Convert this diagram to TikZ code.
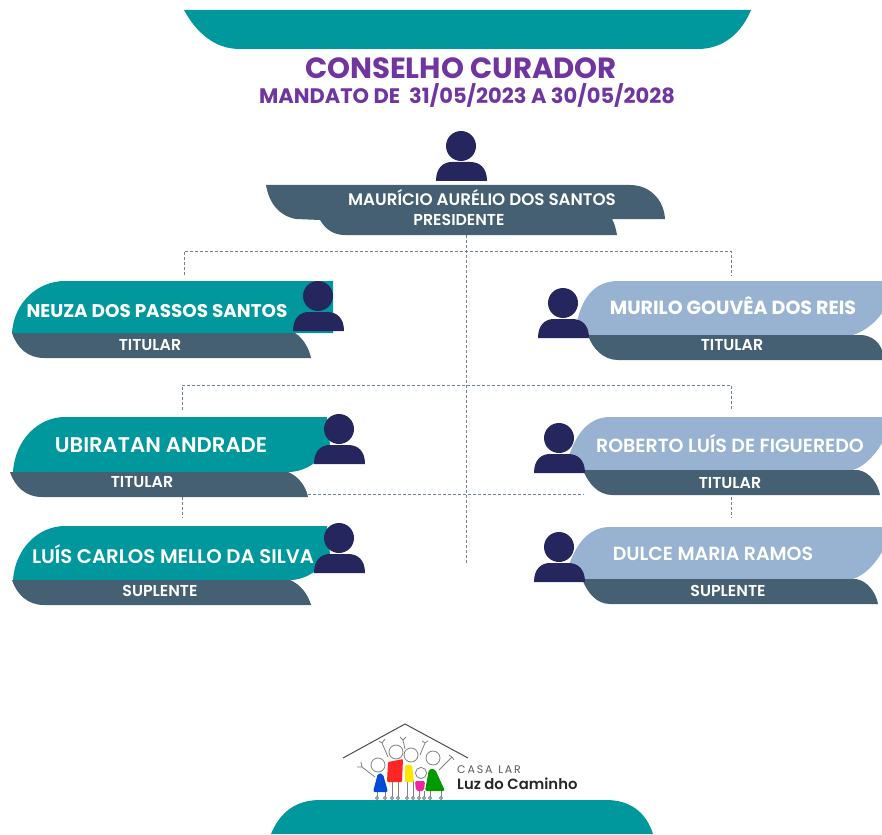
\documentclass[tikz,border=0pt]{standalone}
\usepackage{fontspec}
\setmainfont{Poppins}
\newfontfamily\semifont{Poppins SemiBold}
\definecolor{tealband}{HTML}{00979D}
\definecolor{slateband}{HTML}{456072}
\definecolor{blueband}{HTML}{98B3D1}
\definecolor{navyicon}{HTML}{25265E}
\definecolor{titlepurple}{HTML}{7135A0}
\definecolor{dashgray}{HTML}{6E8294}
\tikzset{
  teal shape/.style={fill=tealband},
  slate shape/.style={fill=slateband},
  blue shape/.style={fill=blueband},
  nameboldtext/.style={text=white,font=\bfseries\fontsize{18.4}{20}\selectfont,inner sep=0pt},
  nametext/.style={text=white,font=\semifont\fontsize{19}{22}\selectfont,inner sep=0pt},
  roletext/.style={text=white,font=\semifont\fontsize{15.8}{18}\selectfont,inner sep=0pt},
  link/.style={draw=dashgray,line width=0.8pt,densely dashed},
  scribble/.style={gray,line width=0.8pt},
  person/.pic={
    \fill[navyicon] (0,0) circle (15);
    \fill[navyicon] (-25,35) .. controls (-25,22) and (-18,16) .. (-9,16) -- (9,16)
      .. controls (19,16) and (26,22) .. (26,35) -- cycle;
  },
  kid/.pic={
    \draw[scribble,fill=white] (0,0) circle (7);
  }
}
\begin{document}
\begin{tikzpicture}[x=1pt,y=-1pt]
  \useasboundingbox (0,0) rectangle (882,834);

  % bands top and bottom
  \fill[teal shape] (184,10) .. controls (196,32) and (214,49) .. (240,49) -- (698,49)
    .. controls (724,49) and (742,32) .. (751,10) -- cycle;
  \fill[teal shape] (271,834) .. controls (280,812) and (296,800) .. (320,800) -- (606,800)
    .. controls (630,800) and (646,812) .. (653,834) -- cycle;

  % title
  \node[text=titlepurple,font=\bfseries\fontsize{29.2}{32}\selectfont,inner sep=0pt] (title) at (461,68) {CONSELHO CURADOR};
  \node[text=titlepurple,font=\bfseries\fontsize{21}{24}\selectfont,inner sep=0pt] (mandate) at (467,95) {MANDATO DE\ \ 31/05/2023 A 30/05/2028};

  % dashed lines
  \coordinate (top left) at (184,251);
  \coordinate (top right) at (731,251);
  \coordinate (top left end) at (184,275);
  \coordinate (top right end) at (731,276);
  \coordinate (centre top) at (466,235);
  \coordinate (centre end) at (466,565);
  \coordinate (mid left) at (182,385);
  \coordinate (mid right) at (731,385);
  \coordinate (mid left end) at (182,410);
  \coordinate (mid right end) at (731,410);
  \coordinate (low left) at (308,494);
  \coordinate (low right) at (584,494);
  \coordinate (sub left) at (182,497);
  \coordinate (sub left end) at (182,518);
  \coordinate (sub right) at (731,497);
  \coordinate (sub right end) at (731,518);
  \draw[link] (top left end) -- (top left) -- (top right) -- (top right end);
  \draw[link] (centre top) -- (centre end);
  \draw[link] (mid left end) -- (mid left) -- (mid right) -- (mid right end);
  \draw[link] (low left) -- (low right);
  \draw[link] (sub left) -- (sub left end);
  \draw[link] (sub right) -- (sub right end);

  % president
  \fill[slate shape] (266,185) -- (630,185) .. controls (650,185) and (664,200) .. (665,219)
    -- (612,219) .. controls (615,224) and (616,230) .. (617,235) -- (345,235)
    .. controls (334,235) and (326,230) .. (320,220) -- (296,219)
    .. controls (279,216) and (269,203) .. (266,185) -- cycle;
  \pic at (461,146) {person};
  \node[roletext,font=\semifont\fontsize{16.7}{18}\selectfont] (president name) at (482,198) {MAURÍCIO AURÉLIO DOS SANTOS};
  \node[roletext] (president role) at (459,219.5) {PRESIDENTE};

  % left column
  \fill[teal shape] (12,333) .. controls (14,302) and (38,281) .. (65,281) -- (333,281) -- (333,333) -- cycle;
  \fill[slate shape] (12,333) -- (295,333) .. controls (303,338) and (309,348) .. (311,358) -- (44,358)
    .. controls (28,358) and (17,348) .. (12,333) -- cycle;
  \pic at (318,296) {person};
  \node[nameboldtext] (neuza name) at (157,311) {NEUZA DOS PASSOS SANTOS};
  \node[roletext] (neuza role) at (150,345) {TITULAR};

  \fill[teal shape] (13,472) .. controls (15,440) and (38,417) .. (65,417) -- (327,417) -- (330,445)
    .. controls (322,460) and (306,472) .. (288,472) -- cycle;
  \fill[slate shape] (10,472) -- (288,472) .. controls (298,476) and (306,486) .. (308,497) -- (42,497)
    .. controls (26,497) and (15,487) .. (10,472) -- cycle;
  \pic at (339,429) {person};
  \node[nametext,font=\semifont\fontsize{21.2}{24}\selectfont] (ubiratan name) at (161,445) {UBIRATAN ANDRADE};
  \node[roletext] (ubiratan role) at (142,482) {TITULAR};

  \fill[teal shape] (13,580) .. controls (15,549) and (38,526) .. (65,526) -- (327,526) -- (330,554)
    .. controls (322,569) and (306,580) .. (290,580) -- cycle;
  \fill[slate shape] (12,580) -- (290,580) .. controls (300,584) and (308,594) .. (311,605) -- (44,605)
    .. controls (28,605) and (17,595) .. (12,580) -- cycle;
  \pic at (339,538) {person};
  \node[nametext,font=\semifont\fontsize{19.7}{22}\selectfont] (luis name) at (173,554) {LUÍS CARLOS MELLO DA SILVA};
  \node[roletext] (luis role) at (160,591) {SUPLENTE};

  % right column
  \fill[blue shape] (575,335) .. controls (578,305) and (590,281) .. (618,281) -- (882,281) -- (882,313)
    .. controls (875,323) and (865,331) .. (853,335) -- cycle;
  \fill[slate shape] (588,335) -- (862,335) .. controls (872,336) and (879,342) .. (882,350) -- (882,360) -- (618,360)
    .. controls (603,360) and (592,348) .. (588,335) -- cycle;
  \pic at (563,303) {person};
  \node[nameboldtext,font=\bfseries\fontsize{19}{21}\selectfont] (murilo name) at (733,306) {MURILO GOUVÊA DOS REIS};
  \node[roletext] (murilo role) at (732,345) {TITULAR};

  \fill[blue shape] (565,470) .. controls (572,440) and (585,417) .. (610,417) -- (882,417) -- (882,443)
    .. controls (875,455) and (865,466) .. (853,470) -- cycle;
  \fill[slate shape] (583,470) -- (858,470) .. controls (870,472) and (878,484) .. (880,495) -- (612,495)
    .. controls (598,495) and (588,483) .. (583,470) -- cycle;
  \pic at (559,438) {person};
  \node[nametext] (roberto name) at (730,443) {ROBERTO LUÍS DE FIGUEREDO};
  \node[roletext] (roberto role) at (730,483) {TITULAR};

  \fill[blue shape] (565,579) .. controls (572,550) and (585,527) .. (610,527) -- (882,527) -- (882,552)
    .. controls (875,564) and (865,575) .. (853,579) -- cycle;
  \fill[slate shape] (582,579) -- (856,579) .. controls (868,581) and (876,593) .. (878,604) -- (610,604)
    .. controls (596,604) and (587,592) .. (582,579) -- cycle;
  \pic at (559,547) {person};
  \node[nametext] (dulce name) at (713,554) {DULCE MARIA RAMOS};
  \node[roletext] (dulce role) at (728,591) {SUPLENTE};

  % logo
  \draw[black!70,line width=1pt] (343,758) -- (405,724) -- (468,758);
  \draw[scribble] (362,767) -- (375,777) (362,767) -- (361,762) (362,767) -- (357,767)
    (382,743) -- (388,757) (382,743) -- (379,741) (382,743) -- (385,739)
    (403,740) -- (405,749) (403,740) -- (400,737) (403,740) -- (406,737)
    (425,743) -- (420,755) (425,743) -- (422,741) (425,743) -- (428,741)
    (452,757) -- (439,770) (452,757) -- (449,755) (452,757) -- (454,760);
  \draw[scribble] (377,791) -- (377,797) (385,791) -- (385,797) (392,782) -- (392,797) (398,782) -- (398,797)
    (407,781) -- (407,797) (413,781) -- (413,797) (419,791) -- (419,797) (424,791) -- (424,797)
    (430,791) -- (430,797) (441,791) -- (441,797);
  \foreach \footx in {377,385,392,398,407,413,419,424,430,441}
    \draw[scribble] (\footx,798) circle (1.5);
  \fill[blue!65!cyan!85!black,rounded corners=2pt] (378,773) -- (383,774) -- (388,792) -- (373,792) -- cycle;
  \fill[red!80!pink,rounded corners=1pt] (388,762) -- (403,759) -- (402,782) -- (387,782) -- cycle;
  \fill[yellow!90!orange,rounded corners=1pt] (405,765) -- (412,765) -- (414,782) -- (405,782) -- cycle;
  \fill[green!60!black,rounded corners=2pt] (429,769) -- (435,769) -- (445,791) -- (425,791) -- cycle;
  \fill[magenta!85!white,rounded corners=2pt] (415,781) -- (425,781) -- (424,791) -- (416,791) -- cycle;
  \pic at (378,765) {kid};
  \pic at (396,752) {kid};
  \pic at (411,755) {kid};
  \pic at (433,758) {kid};
  \pic[scale=0.8] at (421,773) {kid};
  \node[text=black!65,font=\fontsize{11}{13}\selectfont,inner sep=0pt,anchor=west] (logo top) at (457,770) {C\,A\,S\,A\ \ L\,A\,R};
  \node[text=black!85,font=\semifont\fontsize{14.8}{16}\selectfont,inner sep=0pt,anchor=west] (logo name) at (457,784) {Luz do Caminho};
\end{tikzpicture}
\end{document}
